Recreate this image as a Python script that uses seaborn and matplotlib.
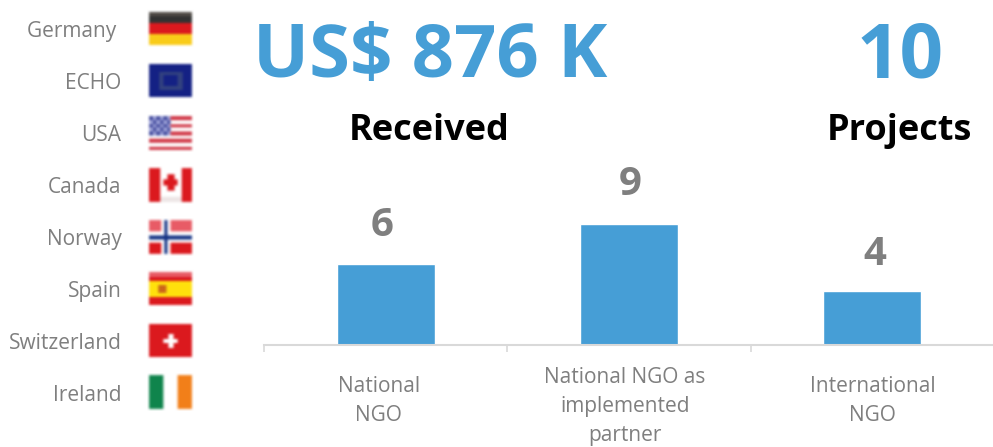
import numpy as np
import pandas as pd
import seaborn as sns
import matplotlib
matplotlib.use("Agg")
import matplotlib.pyplot as plt
from matplotlib.transforms import ScaledTranslation

# ---- data ----
categories = ["National\nNGO", "National NGO as\nimplemented\npartner", "International\nNGO"]
projects = [6, 9, 4]
donors = ["Germany ", "ECHO", "USA", "Canada", "Norway", "Spain", "Switzerland", "Ireland"]
headline_amount = "US$ 876 K"
headline_amount_label = "Received"
headline_count = "10"
headline_count_label = "Projects"

BLUE = "#469ED6"
GREY = "#7F7F7F"

sns.set_theme(style="white")
plt.rcParams["font.family"] = ["Open Sans", "DejaVu Sans"]

W, H = 993, 447
fig = plt.figure(figsize=(W / 100, H / 100), dpi=100, facecolor="white")


def rect(x0, y0, x1, y1):
    return [x0 / W, 1 - y1 / H, (x1 - x0) / W, (y1 - y0) / H]


# ---- bars ----
ax = fig.add_axes(rect(264, 145, 994, 345))
df = pd.DataFrame({"cat": categories, "n": projects})
sns.barplot(data=df, x="cat", y="n", color=BLUE, saturation=1, width=0.403, ax=ax)
ax.set_xlim(-0.5, 2.5)
ax.set_ylim(0, 200 / 13.5)
ax.set_xlabel("")
ax.set_ylabel("")
ax.set_yticks([])
for s in ("top", "left", "right"):
    ax.spines[s].set_visible(False)
ax.spines["bottom"].set_color("#D9D9D9")
ax.spines["bottom"].set_linewidth(1.5)
ax.tick_params(axis="x", which="major", length=0, pad=26, labelsize=15, labelcolor=GREY)
ax.set_xticks([-0.5, 0.5, 1.5], minor=True)
ax.tick_params(axis="x", which="minor", bottom=True, length=5, width=1.2, color="#D9D9D9")

# tick-label nudges in pixels, right / down
tick_nudges = [(-7, 20), (-4, 25), (0, 20)]
for t, (dx, dy) in zip(ax.get_xticklabels(), tick_nudges):
    t.set_linespacing(1.5)
    t.set_verticalalignment("center")
    t.set_transform(t.get_transform() + ScaledTranslation(dx / 100, -dy / 100, fig.dpi_scale_trans))

labels = ax.bar_label(ax.containers[0], padding=14, fontsize=29, fontweight="bold", color=GREY)
for lab, dx, dy in zip(labels, [-4, 1, 2], [0, 0, -2]):
    lab.xyann = (dx * 0.72, lab.xyann[1] + dy * 0.72)
ax.patch.set_alpha(0)

# ---- headline text and donor names, in pixel coordinates ----
ov = fig.add_axes([0, 0, 1, 1], zorder=5)
ov.set_xlim(0, W)
ov.set_ylim(H, 0)
ov.axis("off")
ov.text(430, 77, headline_amount, color=BLUE, fontsize=53.5, fontweight="bold", ha="center", va="baseline")
ov.text(900, 77, headline_count, color=BLUE, fontsize=55, fontweight="bold", ha="center", va="baseline")
ov.text(429, 140, headline_amount_label, color="black", fontsize=26, fontweight="bold", ha="center", va="baseline")
ov.text(899, 140, headline_count_label, color="black", fontsize=26, fontweight="bold", ha="center", va="baseline")

# ---- flags: character grids + palette, blurred like the small bitmaps in the source ----
palette = {
    "k": (0.20, 0.20, 0.20), "K": (0.32, 0.30, 0.28), "R": (0.86, 0.10, 0.12),
    "Y": (0.98, 0.80, 0.10), "E": (0.08, 0.13, 0.52), "e": (0.20, 0.26, 0.50),
    "W": (1.00, 1.00, 1.00), "P": (0.93, 0.90, 0.90), "b": (0.27, 0.30, 0.62),
    "s": (0.62, 0.64, 0.85), "r": (0.82, 0.22, 0.28), "p": (0.91, 0.36, 0.40),
    "B": (0.08, 0.20, 0.52), "y": (1.00, 0.88, 0.05), "o": (0.80, 0.40, 0.10),
    "G": (0.06, 0.52, 0.30), "O": (0.95, 0.50, 0.10),
}
flags = {
    "Germany ": ["KKKK", "kkkk", "kkkk", "RRRR", "RRRR", "RRRR", "YYYY", "YYYY", "YYYY"],
    "ECHO": ["EEEEEEEEE", "EEEEEEEEE", "EEeeeeeEE", "EEeEEEeEE", "EEeEEEeEE", "EEeEEEeEE", "EEeeeeeEE", "EEEEEEEEE", "EEEEEEEEE"],
    "USA": ["bsbsbsrrrrrr", "sbsbsbWWWWWW", "bsbsbsrrrrrr", "sbsbsbWWWWWW", "bsbsbsrrrrrr",
            "WWWWWWWWWWWW", "rrrrrrrrrrrr", "WWWWWWWWWWWW", "rrrrrrrrrrrr"],
    "Canada": ["RRRWWWWWWRRR", "RRRWWRRWWRRR", "RRRWRRRRWRRR", "RRRWWRRWWRRR", "RRRWWWWWWRRR", "RRRPPPPPPRRR"],
    "Norway": ["ppppWBWppppppp", "ppppWBWppppppp", "ppppWBWppppppp", "WWWWWBWWWWWWWW", "BBBBBBBBBBBBBB",
               "WWWWWBWWWWWWWW", "RRRRWBWRRRRRRR", "RRRRWBWRRRRRRR", "RRRRWBWRRRRRRR"],
    "Spain": ["pppppppppp", "RRRRRRRRRR", "yyyyyyyyyy", "yyooyyyyyy", "yyooyyyyyy", "yyyyyyyyyy", "RRRRRRRRRR", "RRRRRRRRRR"],
    "Switzerland": ["RRRRRRRRR", "RRRRRRRRR", "RRRRWRRRR", "RRRWWWRRR", "RRRRWRRRR", "RRRRRRRRR", "RRRRRRRRR"],
    "Ireland": ["GGGWWWOOO"],
}


def render(rows, w=42, h=33, pad=4):
    grid = np.array([[palette[c] for c in row] for row in rows])
    yi = np.arange(h) * grid.shape[0] // h
    xi = np.arange(w) * grid.shape[1] // w
    img = grid[yi][:, xi]
    # extra white margin so the blur never meets the array edge
    img = np.pad(img, ((pad + 3, pad + 3), (pad + 3, pad + 3), (0, 0)), constant_values=1.0)
    kernel = np.array([1, 2, 3, 2, 1]) / 9
    for axis in (0, 1):
        img = np.apply_along_axis(lambda v: np.convolve(v - 1, kernel, mode="same") + 1, axis, img)
    return np.clip(img[3:-3, 3:-3], 0, 1)


centres = np.linspace(29, 393, len(donors))
for name, yc in zip(donors, centres):
    ov.text(121.5, yc + 2.5, name, color=GREY, fontsize=15, ha="right", va="center")
    fa = fig.add_axes(rect(149 - 4, yc - 16.5 - 4, 192 + 4, yc + 16.5 + 4), zorder=6)
    fa.imshow(render(flags[name]), aspect="auto", interpolation="bilinear")
    fa.axis("off")

fig.savefig("out.png", dpi=100, facecolor="white")
